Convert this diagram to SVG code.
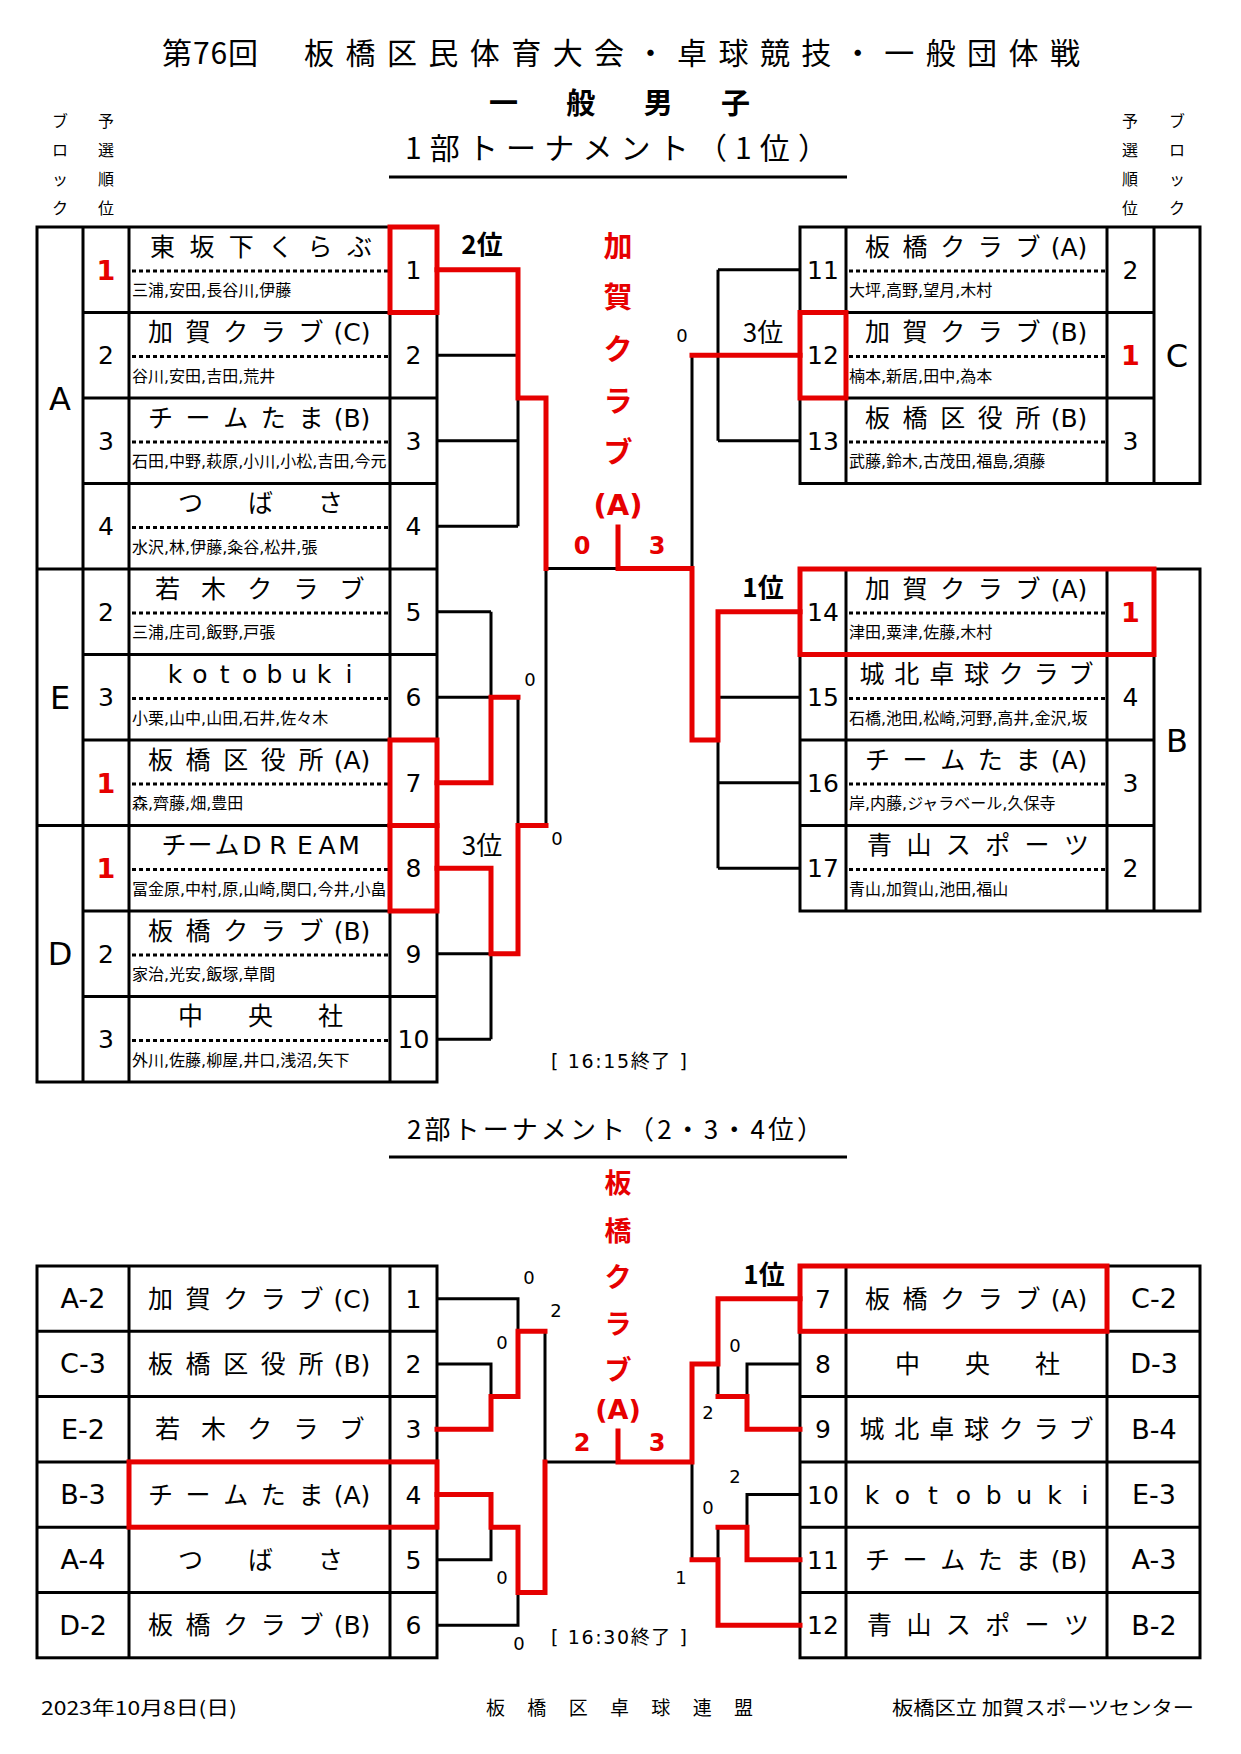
<svg xmlns="http://www.w3.org/2000/svg" width="1241" height="1754" viewBox="0 0 1241 1754">
<style>
text{font-family:"DejaVu Sans","Noto Sans CJK JP",sans-serif}
.j{font-family:"Noto Sans CJK JP","DejaVu Sans",sans-serif}
.ln{stroke:#000;stroke-width:3;fill:none}
.bk{stroke:#000;stroke-width:3;fill:none}
.rd{stroke:#e60000;stroke-width:5;fill:none;stroke-linecap:square}
.rb{stroke:#e60000;stroke-width:5;fill:none}
.dot{stroke:#000;stroke-width:3;stroke-dasharray:4 3}
.nm{font-size:25px;text-anchor:middle}
.mb{font-size:16px}
.num{font-size:25px;text-anchor:middle}
.s1{font-size:27px;font-weight:bold;fill:#e60000;text-anchor:middle}
.blk{font-size:32px;text-anchor:middle}
.hd{font-size:16px;text-anchor:middle}
.sc{font-size:18px;text-anchor:middle}
.rk{font-size:26px;text-anchor:middle}
.rkb{font-size:26px;font-weight:bold;text-anchor:middle}
.vr{font-size:29px;font-weight:bold;fill:#e60000;text-anchor:middle}
.vr2{font-size:27px;font-weight:bold;fill:#e60000;text-anchor:middle}
.rs{font-size:24px;font-weight:bold;fill:#e60000;text-anchor:middle}
.lb{font-size:27px;text-anchor:middle}
.ft{font-size:19px}
</style>
<rect width="1241" height="1754" fill="#fff"/>

<g id="header">
<text class="j" x="162" y="64" font-size="30" textLength="96" lengthAdjust="spacing">第76回</text>
<text class="j" x="304" y="64" font-size="30" textLength="776" lengthAdjust="spacing">板橋区民体育大会・卓球競技・一般団体戦</text>
<text class="j" x="489" y="114" font-size="29" font-weight="bold" textLength="261" lengthAdjust="spacing">一般男子</text>
<text class="j" x="405" y="159" font-size="30" textLength="423" lengthAdjust="spacing">1部トーナメント（1位）</text>
<line class="ln" x1="389" y1="177" x2="847" y2="177" stroke-width="3.5"/>
<g class="hd j">
<text x="60" y="127">ブ</text><text x="60" y="156">ロ</text><text x="60" y="185">ッ</text><text x="60" y="214">ク</text>
<text x="106" y="127">予</text><text x="106" y="156">選</text><text x="106" y="185">順</text><text x="106" y="214">位</text>
<text x="1130" y="127">予</text><text x="1130" y="156">選</text><text x="1130" y="185">順</text><text x="1130" y="214">位</text>
<text x="1177" y="127">ブ</text><text x="1177" y="156">ロ</text><text x="1177" y="185">ッ</text><text x="1177" y="214">ク</text>
</g>
</g>

<g id="table-top-left">
<rect class="ln" x="37" y="227" width="400" height="855"/>
<path class="ln" d="M83,227V1082M129,227V1082M390,227V1082"/>
<path class="ln" d="M83,312.5H437M83,398H437M83,483.5H437M37,569H437M83,654.5H437M83,740H437M37,825.5H437M83,911H437M83,996.5H437"/>
<text class="blk" x="60" y="409.5">A</text>
<text class="blk" x="60" y="708.75">E</text>
<text class="blk" x="60" y="965.25">D</text>
</g>

<g id="table-top-right">
<rect class="ln" x="800" y="227" width="400" height="256.5"/>
<path class="ln" d="M846,227V483.5M1107,227V483.5M1154,227V483.5M800,312.5H1154M800,398H1154"/>
<rect class="ln" x="800" y="569" width="400" height="342"/>
<path class="ln" d="M846,569V911M1107,569V911M1154,569V911M800,654.5H1154M800,740H1154M800,825.5H1154"/>
<text class="blk" x="1177" y="366.75">C</text>
<text class="blk" x="1177" y="751.5">B</text>
</g>

<g id="t1-01">
<text class="nm" y="255.5" x="162.5 201.9 241.3 280.7 320.1 359.5">東坂下くらぶ</text>
<line class="dot" x1="132" y1="271" x2="388" y2="271"/>
<text class="mb" x="132" y="296">三浦,安田,長谷川,伊藤</text>
<text class="s1" x="106" y="279.5">1</text>
<text class="num" x="413.5" y="278.75">1</text>
</g>
<g id="t1-02">
<text class="nm" y="341"><tspan x="160.5 198 235.7 273.3 311">加賀クラブ</tspan><tspan x="352">(C)</tspan></text>
<line class="dot" x1="132" y1="356.5" x2="388" y2="356.5"/>
<text class="mb" x="132" y="381.5">谷川,安田,吉田,荒井</text>
<text class="num" x="106" y="364.25">2</text>
<text class="num" x="413.5" y="364.25">2</text>
</g>
<g id="t1-03">
<text class="nm" y="426.5"><tspan x="160.5 198 235.7 273.3 311">チームたま</tspan><tspan x="352">(B)</tspan></text>
<line class="dot" x1="132" y1="442" x2="388" y2="442"/>
<text class="mb" x="132" y="467">石田,中野,萩原,小川,小松,吉田,今元</text>
<text class="num" x="106" y="449.75">3</text>
<text class="num" x="413.5" y="449.75">3</text>
</g>
<g id="t1-04">
<text class="nm" y="512" x="190.5 260.5 330.5">つばさ</text>
<line class="dot" x1="132" y1="527.5" x2="388" y2="527.5"/>
<text class="mb" x="132" y="552.5">水沢,林,伊藤,粂谷,松井,張</text>
<text class="num" x="106" y="535.25">4</text>
<text class="num" x="413.5" y="535.25">4</text>
</g>
<g id="t1-05">
<text class="nm" y="597.5" x="167.5 213.6 259.8 305.9 352">若木クラブ</text>
<line class="dot" x1="132" y1="613" x2="388" y2="613"/>
<text class="mb" x="132" y="638">三浦,庄司,飯野,戸張</text>
<text class="num" x="106" y="620.75">2</text>
<text class="num" x="413.5" y="620.75">5</text>
</g>
<g id="t1-06">
<text class="nm" y="683" font-size="24" x="175 199.9 224.7 249.6 274.4 299.3 324.1 349">kotobuki</text>
<line class="dot" x1="132" y1="698.5" x2="388" y2="698.5"/>
<text class="mb" x="132" y="723.5">小栗,山中,山田,石井,佐々木</text>
<text class="num" x="106" y="706.25">3</text>
<text class="num" x="413.5" y="706.25">6</text>
</g>
<g id="t1-07">
<text class="nm" y="768.5"><tspan x="160.5 198 235.7 273.3 311">板橋区役所</tspan><tspan x="352">(A)</tspan></text>
<line class="dot" x1="132" y1="784" x2="388" y2="784"/>
<text class="mb" x="132" y="809">森,齊藤,畑,豊田</text>
<text class="s1" x="106" y="792.5">1</text>
<text class="num" x="413.5" y="791.75">7</text>
</g>
<g id="t1-08">
<text class="nm" y="854" x="174 200 227 252 278 305 327 349">チームDREAM</text>
<line class="dot" x1="132" y1="869.5" x2="388" y2="869.5"/>
<text class="mb" x="132" y="894.5">冨金原,中村,原,山崎,関口,今井,小畠</text>
<text class="s1" x="106" y="878">1</text>
<text class="num" x="413.5" y="877.25">8</text>
</g>
<g id="t1-09">
<text class="nm" y="939.5"><tspan x="160.5 198 235.7 273.3 311">板橋クラブ</tspan><tspan x="352">(B)</tspan></text>
<line class="dot" x1="132" y1="955" x2="388" y2="955"/>
<text class="mb" x="132" y="980">家治,光安,飯塚,草間</text>
<text class="num" x="106" y="962.75">2</text>
<text class="num" x="413.5" y="962.75">9</text>
</g>
<g id="t1-10">
<text class="nm" y="1025" x="190.5 260.5 330.5">中央社</text>
<line class="dot" x1="132" y1="1040.5" x2="388" y2="1040.5"/>
<text class="mb" x="132" y="1065.5">外川,佐藤,柳屋,井口,浅沼,矢下</text>
<text class="num" x="106" y="1048.25">3</text>
<text class="num" x="413.5" y="1048.25">10</text>
</g>

<g id="t1-11">
<text class="nm" y="255.5"><tspan x="877.5 915 952.7 990.3 1028">板橋クラブ</tspan><tspan x="1069">(A)</tspan></text>
<line class="dot" x1="849" y1="271" x2="1105" y2="271"/>
<text class="mb" x="849" y="296">大坪,高野,望月,木村</text>
<text class="num" x="823" y="278.75">11</text>
<text class="num" x="1130.5" y="278.75">2</text>
</g>
<g id="t1-12">
<text class="nm" y="341"><tspan x="877.5 915 952.7 990.3 1028">加賀クラブ</tspan><tspan x="1069">(B)</tspan></text>
<line class="dot" x1="849" y1="356.5" x2="1105" y2="356.5"/>
<text class="mb" x="849" y="381.5">楠本,新居,田中,為本</text>
<text class="num" x="823" y="364.25">12</text>
<text class="s1" x="1130.5" y="365">1</text>
</g>
<g id="t1-13">
<text class="nm" y="426.5"><tspan x="877.5 915 952.7 990.3 1028">板橋区役所</tspan><tspan x="1069">(B)</tspan></text>
<line class="dot" x1="849" y1="442" x2="1105" y2="442"/>
<text class="mb" x="849" y="467">武藤,鈴木,古茂田,福島,須藤</text>
<text class="num" x="823" y="449.75">13</text>
<text class="num" x="1130.5" y="449.75">3</text>
</g>
<g id="t1-14">
<text class="nm" y="597.5"><tspan x="877.5 915 952.7 990.3 1028">加賀クラブ</tspan><tspan x="1069">(A)</tspan></text>
<line class="dot" x1="849" y1="613" x2="1105" y2="613"/>
<text class="mb" x="849" y="638">津田,粟津,佐藤,木村</text>
<text class="num" x="823" y="620.75">14</text>
<text class="s1" x="1130.5" y="621.5">1</text>
</g>
<g id="t1-15">
<text class="nm" y="683" x="872 906.8 941.7 976.5 1011.3 1046.2 1081">城北卓球クラブ</text>
<line class="dot" x1="849" y1="698.5" x2="1105" y2="698.5"/>
<text class="mb" x="849" y="723.5">石橋,池田,松崎,河野,高井,金沢,坂</text>
<text class="num" x="823" y="706.25">15</text>
<text class="num" x="1130.5" y="706.25">4</text>
</g>
<g id="t1-16">
<text class="nm" y="768.5"><tspan x="877.5 915 952.7 990.3 1028">チームたま</tspan><tspan x="1069">(A)</tspan></text>
<line class="dot" x1="849" y1="784" x2="1105" y2="784"/>
<text class="mb" x="849" y="809">岸,内藤,ジャラベール,久保寺</text>
<text class="num" x="823" y="791.75">16</text>
<text class="num" x="1130.5" y="791.75">3</text>
</g>
<g id="t1-17">
<text class="nm" y="854" x="879.5 918.9 958.3 997.7 1037.1 1076.5">青山スポーツ</text>
<line class="dot" x1="849" y1="869.5" x2="1105" y2="869.5"/>
<text class="mb" x="849" y="894.5">青山,加賀山,池田,福山</text>
<text class="num" x="823" y="877.25">17</text>
<text class="num" x="1130.5" y="877.25">2</text>
</g>

<g id="header2">
<text class="j" x="407" y="1139" font-size="26" textLength="416" lengthAdjust="spacing">2部トーナメント（2・3・4位）</text>
<line class="ln" x1="389" y1="1157" x2="847" y2="1157" stroke-width="2.5"/>
</g>

<g id="table-bottom">
<rect class="ln" x="37" y="1266" width="400" height="391.8"/>
<path class="ln" d="M129,1266V1657.8M390,1266V1657.8M37,1331.3H437M37,1396.6H437M37,1461.9H437M37,1527.2H437M37,1592.5H437"/>
<rect class="ln" x="800" y="1266" width="400" height="391.8"/>
<path class="ln" d="M846,1266V1657.8M1107,1266V1657.8M800,1331.3H1200M800,1396.6H1200M800,1461.9H1200M800,1527.2H1200M800,1592.5H1200"/>
</g>

<g id="t2-01"><text class="lb" x="83" y="1308">A-2</text><text class="nm" y="1307.6"><tspan x="160.5 198 235.7 273.3 311">加賀クラブ</tspan><tspan x="352">(C)</tspan></text><text class="num" x="413.5" y="1307.6">1</text></g>
<g id="t2-02"><text class="lb" x="83" y="1373.3">C-3</text><text class="nm" y="1372.9"><tspan x="160.5 198 235.7 273.3 311">板橋区役所</tspan><tspan x="352">(B)</tspan></text><text class="num" x="413.5" y="1372.9">2</text></g>
<g id="t2-03"><text class="lb" x="83" y="1438.6">E-2</text><text class="nm" y="1438.2" x="167.5 213.6 259.8 305.9 352">若木クラブ</text><text class="num" x="413.5" y="1438.2">3</text></g>
<g id="t2-04"><text class="lb" x="83" y="1503.9">B-3</text><text class="nm" y="1503.5"><tspan x="160.5 198 235.7 273.3 311">チームたま</tspan><tspan x="352">(A)</tspan></text><text class="num" x="413.5" y="1503.5">4</text></g>
<g id="t2-05"><text class="lb" x="83" y="1569.2">A-4</text><text class="nm" y="1568.8" x="190.5 260.5 330.5">つばさ</text><text class="num" x="413.5" y="1568.8">5</text></g>
<g id="t2-06"><text class="lb" x="83" y="1634.5">D-2</text><text class="nm" y="1634.1"><tspan x="160.5 198 235.7 273.3 311">板橋クラブ</tspan><tspan x="352">(B)</tspan></text><text class="num" x="413.5" y="1634.1">6</text></g>

<g id="t2-07"><text class="num" x="823" y="1307.6">7</text><text class="nm" y="1307.6"><tspan x="877.5 915 952.7 990.3 1028">板橋クラブ</tspan><tspan x="1069">(A)</tspan></text><text class="lb" x="1154" y="1308">C-2</text></g>
<g id="t2-08"><text class="num" x="823" y="1372.9">8</text><text class="nm" y="1372.9" x="907.5 977.5 1047.5">中央社</text><text class="lb" x="1154" y="1373.3">D-3</text></g>
<g id="t2-09"><text class="num" x="823" y="1438.2">9</text><text class="nm" y="1438.2" x="872 906.8 941.7 976.5 1011.3 1046.2 1081">城北卓球クラブ</text><text class="lb" x="1154" y="1438.6">B-4</text></g>
<g id="t2-10"><text class="num" x="823" y="1503.5">10</text><text class="nm" y="1503.5" font-size="24" x="872 902.4 932.9 963.3 993.7 1024.1 1054.6 1085">kotobuki</text><text class="lb" x="1154" y="1503.9">E-3</text></g>
<g id="t2-11"><text class="num" x="823" y="1568.8">11</text><text class="nm" y="1568.8"><tspan x="877.5 915 952.7 990.3 1028">チームたま</tspan><tspan x="1069">(B)</tspan></text><text class="lb" x="1154" y="1569.2">A-3</text></g>
<g id="t2-12"><text class="num" x="823" y="1634.1">12</text><text class="nm" y="1634.1" x="879.5 918.9 958.3 997.7 1037.1 1076.5">青山スポーツ</text><text class="lb" x="1154" y="1634.5">B-2</text></g>

<g id="connectors">
<path class="bk" d="M437,355.25H518M437,440.75H518M437,526.25H518M518,398V526.25"/>
<path class="bk" d="M437,611.75H491M437,697.25H491M491,611.75V697.25M518,697.25V825.5"/>
<path class="bk" d="M437,953.75H491M437,1039.25H491M491,953.75V1039.25"/>
<path class="bk" d="M546,568.5V825.5M546,568.5H618"/>
<path class="bk" d="M718,269.75H800M718,440.75H800M718,269.75V440.75M692,355.25V568.5"/>
<path class="bk" d="M718,697.25H800M718,782.75H800M718,868.25H800M718,740V868.25"/>
<path class="rd" d="M437,269.75H518V398H546V568.5"/>
<path class="rd" d="M437,782.75H491V697.25H518"/>
<path class="rd" d="M437,868.25H491V953.75H518V825.5H546"/>
<path class="rd" d="M618,527V568.5H692V740H718V611.75H800"/>
<path class="rd" d="M692,355.25H800"/>
<path class="bk" d="M437,1298.65H518V1331.3M437,1363.95H491V1396.6M545,1331.3V1461.9H618"/>
<path class="bk" d="M437,1559.85H491V1527.2M437,1625.15H518V1592.5"/>
<path class="bk" d="M800,1363.95H747V1396.6M718,1363.95V1396.6M692,1461.9V1559.85M800,1494.55H747V1527.2M718,1527.2V1559.85"/>
<path class="rd" d="M437,1429.25H491V1396.6H518V1331.3H545"/>
<path class="rd" d="M437,1494.55H491V1527.2H518V1592.5H545V1461.9"/>
<path class="rd" d="M618,1431V1461.9H692V1363.95H718V1298.65H800"/>
<path class="rd" d="M800,1429.25H747V1396.6H718"/>
<path class="rd" d="M800,1559.85H747V1527.2H718"/>
<path class="rd" d="M800,1625.15H718V1559.85H692"/>
</g>

<g id="highlights">
<rect class="rb" x="390" y="227" width="47" height="85.5"/>
<rect class="rb" x="390" y="740" width="47" height="85.5"/>
<rect class="rb" x="390" y="825.5" width="47" height="85.5"/>
<rect class="rb" x="800" y="312.5" width="46" height="85.5"/>
<rect class="rb" x="800" y="569" width="354" height="85.5"/>
<rect class="rb" x="129" y="1461.9" width="308" height="65.3"/>
<rect class="rb" x="800" y="1266" width="307" height="65.3"/>
</g>

<g id="labels">
<text class="rkb j" x="482" y="254">2位</text>
<text class="rk j" x="763" y="342">3位</text>
<text class="rkb j" x="763" y="597">1位</text>
<text class="rk j" x="482" y="855">3位</text>
<text class="rkb j" x="764" y="1284">1位</text>
<g class="vr">
<text x="618" y="257">加</text><text x="618" y="308">賀</text><text x="618" y="360">ク</text><text x="618" y="412">ラ</text><text x="618" y="463">ブ</text><text x="618" y="515">(A)</text>
</g>
<g class="vr2">
<text x="618" y="1193">板</text><text x="618" y="1241">橋</text><text x="618" y="1287">ク</text><text x="618" y="1334">ラ</text><text x="618" y="1380">ブ</text><text x="618" y="1419">(A)</text>
</g>
<text class="rs" x="582" y="554">0</text>
<text class="rs" x="657" y="554">3</text>
<text class="rs" x="582" y="1451" font-size="22">2</text>
<text class="rs" x="657" y="1451" font-size="22">3</text>
<text class="sc" x="682" y="341.5">0</text>
<text class="sc" x="530" y="685.5">0</text>
<text class="sc" x="557" y="844.5">0</text>
<text class="sc" x="529" y="1283.5">0</text>
<text class="sc" x="556" y="1316.5">2</text>
<text class="sc" x="502" y="1348.5">0</text>
<text class="sc" x="502" y="1583.5">0</text>
<text class="sc" x="519" y="1649.5">0</text>
<text class="sc" x="735" y="1351.5">0</text>
<text class="sc" x="708" y="1418.5">2</text>
<text class="sc" x="735" y="1482.5">2</text>
<text class="sc" x="708" y="1513.5">0</text>
<text class="sc" x="681" y="1583.5">1</text>
<text x="551" y="1068" font-size="19" textLength="136" lengthAdjust="spacing">[ 16:15終了 ]</text>
<text x="551" y="1644" font-size="19" textLength="136" lengthAdjust="spacing">[ 16:30終了 ]</text>
</g>

<g id="footer">
<text class="ft j" x="41" y="1715" textLength="196" lengthAdjust="spacingAndGlyphs">2023年10月8日(日)</text>
<text class="ft j" x="486" y="1715" textLength="267" lengthAdjust="spacing">板橋区卓球連盟</text>
<text class="ft j" x="892" y="1715" textLength="302" lengthAdjust="spacingAndGlyphs">板橋区立 加賀スポーツセンター</text>
</g>
</svg>
